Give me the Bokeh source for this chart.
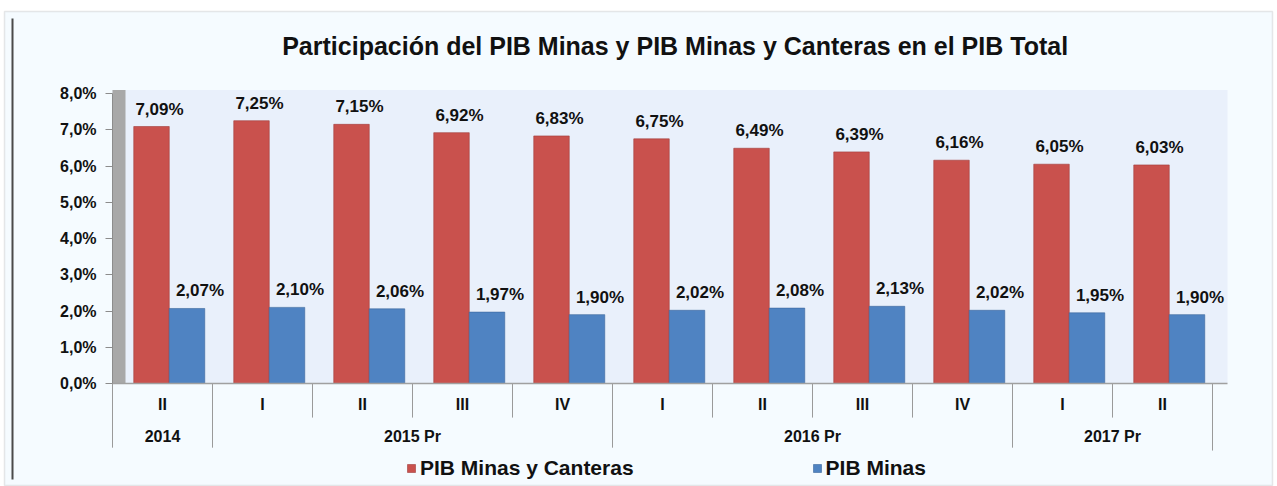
import numpy as np
from bokeh.plotting import figure
from bokeh.models import (ColumnDataSource, Range1d, FixedTicker, LabelSet, Label, Legend,
                          LegendItem, LinearAxis, BoxAnnotation)
from bokeh.core.properties import value
from bokeh.embed import file_html
from bokeh.resources import INLINE

title_text = "Participación  del PIB Minas  y  PIB Minas  y Canteras  en el PIB Total"
years = ["2014", "2015 Pr", "2015 Pr", "2015 Pr", "2015 Pr",
         "2016 Pr", "2016 Pr", "2016 Pr", "2016 Pr", "2017 Pr", "2017 Pr"]
quarters = ["II", "I", "II", "III", "IV", "I", "II", "III", "IV", "I", "II"]
minas_canteras = [7.09, 7.25, 7.15, 6.92, 6.83, 6.75, 6.49, 6.39, 6.16, 6.05, 6.03]
minas = [2.07, 2.10, 2.06, 1.97, 1.90, 2.02, 2.08, 2.13, 2.02, 1.95, 1.90]
series_names = ["PIB Minas y Canteras", "PIB Minas"]
y_ticks = [0, 1, 2, 3, 4, 5, 6, 7, 8]
y_tick_labels = ["0,0%", "1,0%", "2,0%", "3,0%", "4,0%", "5,0%", "6,0%", "7,0%", "8,0%"]

RED = "#C9514D"
BLUE = "#4F83C2"
FONT = "Liberation Sans"
TXT = "#111111"

n = len(quarters)
idx = np.arange(n)

src = ColumnDataSource(dict(
    xr=idx + 0.39,
    xb=idx + 0.745,
    xrl=idx + 0.47,
    xbl=idx + 0.875,
    mc=minas_canteras,
    mi=minas,
    mc_lbl=[("%.2f%%" % v).replace(".", ",") for v in minas_canteras],
    mi_lbl=[("%.2f%%" % v).replace(".", ",") for v in minas],
))

# group (year) spans and separator positions
year_names, year_centers, bounds_x, bounds_depth = [], [], [0], [-1.77]
start = 0
for i in range(1, n + 1):
    if i == n or years[i] != years[i - 1]:
        year_names.append(years[start])
        year_centers.append((start + i) / 2)
        start = i
    if i < n:
        bounds_x.append(i)
        bounds_depth.append(-1.77 if years[i] != years[i - 1] else -0.94)
bounds_x.append(n)
bounds_depth.append(-1.85)

W, H = 1277, 486
p = figure(width=W, height=H, x_range=Range1d(-1.12, 11.65), y_range=Range1d(-2.841, 10.566),
           output_backend="svg", toolbar_location=None, min_border=0)
p.background_fill_color = "white"
p.border_fill_color = "white"
p.outline_line_color = None
p.grid.grid_line_color = None

# chart area box and plot wall (decorations)
p.add_layout(BoxAnnotation(left=-1.08, right=11.60, bottom=-2.814, top=10.262,
                           fill_color="#F5FBFF", fill_alpha=1, line_color="#B4B4B4",
                           line_width=1.5, level="underlay"))
p.add_layout(BoxAnnotation(left=-1.01, right=-0.99, bottom=-2.65, top=10.07,
                           fill_color="#4A4A4A", fill_alpha=1, line_color=None, level="underlay"))
p.add_layout(BoxAnnotation(left=0, right=11.15, bottom=0, top=8.1,
                           fill_color="#E9F0FB", fill_alpha=1, line_color=None, level="underlay"))
p.add_layout(BoxAnnotation(left=0, right=0.13, bottom=0, top=8.1,
                           fill_color="#A8A8A8", fill_alpha=1, line_color=None, level="underlay"))

# title
p.add_layout(Label(x=5.80, y=9.324, text=title_text, text_align="center", text_baseline="middle",
                   text_font=FONT, text_font_size="25px", text_font_style="bold", text_color=TXT))

# bars
r1 = p.vbar(x="xr", top="mc", width=0.355, source=src, fill_color=RED,
            line_color="#A13D3A", line_width=0.6)
r2 = p.vbar(x="xb", top="mi", width=0.355, source=src, fill_color=BLUE,
            line_color="#3B679C", line_width=0.6)

# data labels
for xc, col, lbl in (("xrl", "mc", "mc_lbl"), ("xbl", "mi", "mi_lbl")):
    p.add_layout(LabelSet(x=xc, y=col, text=lbl, source=src, y_offset=12,
                          text_align="center", text_baseline="alphabetic",
                          text_font=value(FONT), text_font_size="17px",
                          text_font_style="bold", text_color=TXT))

# separators under the category axis
p.segment(x0=bounds_x, y0=[0] * len(bounds_x), x1=bounds_x, y1=bounds_depth,
          line_color="#9A9A9A", line_width=1)

# y axis
ya = p.yaxis[0]
ya.fixed_location = 0
ya.bounds = (0, 8)
ya.ticker = FixedTicker(ticks=y_ticks)
ya.major_label_overrides = {t: l for t, l in zip(y_ticks, y_tick_labels)}
ya.major_label_text_font = FONT
ya.major_label_text_font_size = "16px"
ya.major_label_text_font_style = "bold"
ya.major_label_text_color = TXT
ya.axis_line_color = "#8C8C8C"
ya.major_tick_line_color = "#8C8C8C"
ya.major_tick_out = 7
ya.major_tick_in = 0
ya.minor_tick_line_color = None
ya.major_label_standoff = 9

# x axis: quarters
xa = p.xaxis[0]
xa.fixed_location = 0
xa.bounds = (0, 11.15)
xa.ticker = FixedTicker(ticks=list(idx + 0.5))
xa.major_label_overrides = {float(t): q for t, q in zip(idx + 0.5, quarters)}
xa.axis_line_color = "#A0A0A0"
xa.axis_line_width = 1.5
xa.major_tick_line_color = None
xa.minor_tick_line_color = None
xa.major_label_text_font = FONT
xa.major_label_text_font_size = "16px"
xa.major_label_text_font_style = "bold"
xa.major_label_text_color = TXT
xa.major_label_standoff = 6

# x axis: years
xa2 = LinearAxis(fixed_location=0, ticker=FixedTicker(ticks=year_centers),
                 major_label_overrides={float(c): y for c, y in zip(year_centers, year_names)},
                 axis_line_color=None, major_tick_line_color=None, minor_tick_line_color=None,
                 major_label_text_font=FONT, major_label_text_font_size="16px",
                 major_label_text_font_style="bold", major_label_text_color=TXT,
                 major_label_standoff=38)
p.add_layout(xa2, "below")

legend = Legend(items=[LegendItem(label=series_names[0], renderers=[r1]),
                       LegendItem(label=series_names[1], renderers=[r2])],
                orientation="horizontal", location=(406, 6),
                label_text_font=FONT, label_text_font_size="21px", label_text_font_style="bold",
                label_text_color=TXT, glyph_width=10, glyph_height=10, spacing=178,
                border_line_color=None, background_fill_alpha=0, padding=0, margin=0,
                label_standoff=4)
p.add_layout(legend, "center")

open("out.html", "w").write(file_html(p, INLINE))
